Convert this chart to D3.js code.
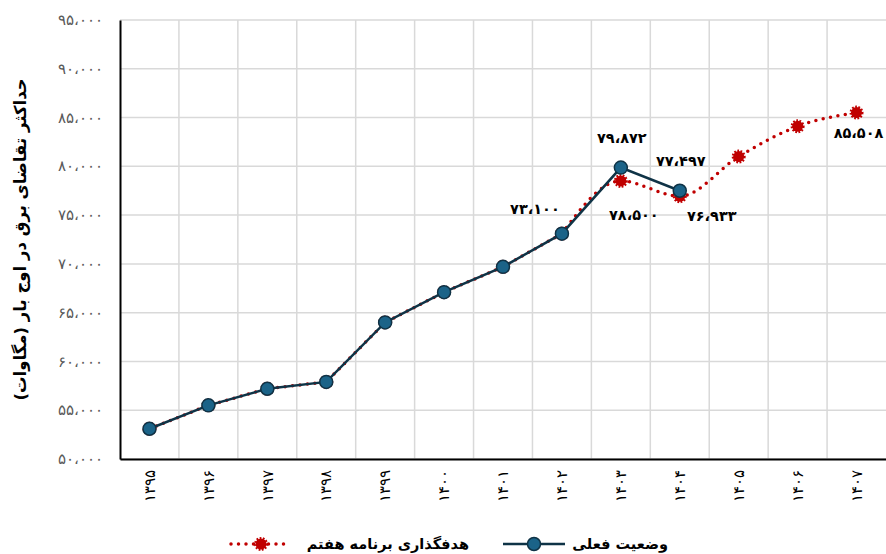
<!DOCTYPE html>
<html lang="fa">
<head>
<meta charset="UTF-8">
<title>Peak electricity demand</title>
<style>
  body { margin: 0; background: #fff; }
  svg { font-family: "DejaVu Sans", sans-serif; }
</style>
</head>
<body>
<div id="chart"></div>
<script src="https://d3js.org/d3.v7.min.js"></script>
<script>
// data
const years = ['۱۳۹۵', '۱۳۹۶', '۱۳۹۷', '۱۳۹۸', '۱۳۹۹', '۱۴۰۰', '۱۴۰۱', '۱۴۰۲', '۱۴۰۳', '۱۴۰۴', '۱۴۰۵', '۱۴۰۶', '۱۴۰۷'];
const actual = [53100, 55500, 57200, 57900, 64000, 67100, 69700, 73100, 79872, 77497, null, null, null];
const target = [53100, 55500, 57200, 57900, 64000, 67100, 69700, 73100, 78500, 76933, 81000, 84100, 85508];
const yTicks = [50000, 55000, 60000, 65000, 70000, 75000, 80000, 85000, 90000, 95000];
const seriesNames = ['وضعیت فعلی', 'هدفگذاری برنامه هفتم'];
const yTitle = 'حداکثر تقاضای برق در اوج بار (مگاوات)';
// which points carry a value label: [series, index, dx, dy]
const labelled = [
  ['actual', 7, -27, -25],
  ['actual', 8, 1, -30],
  ['actual', 9, 1, -30],
  ['target', 8, 13, 34],
  ['target', 9, 32, 20],
  ['target', 12, 2, 20]
];

const W = 886, H = 554;
const m = { left: 120, right: 0, top: 20, bottom: 95 };

const fa = d3.scaleOrdinal().domain('0123456789'.split('')).range('۰۱۲۳۴۵۶۷۸۹'.split(''));
function toFa(n) {
  return d3.format(',')(n).replace(/,/g, '،').replace(/[0-9]/g, c => fa(c));
}

const svg = d3.select('#chart').append('svg')
  .attr('width', W).attr('height', H);

const x = d3.scaleBand().domain(years).range([m.left, W - m.right]);
const y = d3.scaleLinear().domain([50000, 95000]).range([H - m.bottom, m.top]);
const cx = i => x(years[i]) + x.bandwidth() / 2;

// grid
svg.append('g').selectAll('line.h')
  .data(yTicks).enter().append('line')
  .attr('x1', m.left).attr('x2', W - m.right)
  .attr('y1', d => y(d)).attr('y2', d => y(d))
  .attr('stroke', '#d9d9d9').attr('stroke-width', 1.5);
svg.append('g').selectAll('line.v')
  .data(years.slice(1)).enter().append('line')
  .attr('x1', d => x(d)).attr('x2', d => x(d))
  .attr('y1', m.top).attr('y2', H - m.bottom)
  .attr('stroke', '#d9d9d9').attr('stroke-width', 1.5);

// axes
const yAxis = svg.append('g')
  .attr('transform', `translate(${m.left},0)`)
  .call(d3.axisLeft(y).tickValues(yTicks).tickSize(0).tickPadding(17).tickFormat(toFa));
yAxis.select('.domain').attr('stroke', '#000').attr('stroke-width', 2);
yAxis.selectAll('text').attr('fill', '#595959').style('font-size', '14.5px');

const xAxis = svg.append('g')
  .attr('transform', `translate(0,${H - m.bottom})`)
  .call(d3.axisBottom(x).tickSize(0).tickFormat(d => d));
xAxis.select('.domain').attr('stroke', '#000').attr('stroke-width', 2);
xAxis.selectAll('text')
  .attr('fill', '#000').style('font-size', '15px')
  .attr('transform', 'rotate(-90)')
  .attr('text-anchor', 'end')
  .attr('x', -11).attr('y', 0).attr('dy', '0.35em');

// axis title
svg.append('text')
  .attr('transform', `translate(20,${(m.top + H - m.bottom) / 2}) rotate(-90)`)
  .attr('text-anchor', 'middle').attr('dy', '0.35em')
  .style('font-size', '16.5px').style('font-weight', 'bold')
  .text(yTitle);

// target series: straight where it sits under the actual line, smoothed after
const red = '#c00000';
const split = 7;
const lineA = d3.line().defined((d, i) => i <= split).x((d, i) => cx(i)).y(d => y(d));
const lineB = d3.line().defined((d, i) => i >= split).x((d, i) => cx(i)).y(d => y(d)).curve(d3.curveMonotoneX);
[lineA, lineB].forEach(l => {
  svg.append('path').datum(target)
    .attr('d', l)
    .attr('fill', 'none').attr('stroke', red).attr('stroke-width', 3.5)
    .attr('stroke-linecap', 'round').attr('stroke-dasharray', '0 7.5');
});

function burst(sel, r) {
  sel.append('circle').attr('r', r).attr('fill', red)
    .attr('stroke', red).attr('stroke-width', 3).attr('stroke-dasharray', '1.6 1.4');
}
svg.append('g').selectAll('g')
  .data(target).enter().append('g')
  .attr('transform', (d, i) => `translate(${cx(i)},${y(d)})`)
  .call(burst, 5.5);

// actual series
const navy = '#0f3346';
const line2 = d3.line().defined(d => d != null).x((d, i) => cx(i)).y(d => y(d));
svg.append('path').datum(actual)
  .attr('d', line2)
  .attr('fill', 'none').attr('stroke', navy).attr('stroke-width', 2.5);
svg.append('g').selectAll('circle')
  .data(actual.map((d, i) => [d, i]).filter(p => p[0] != null)).enter().append('circle')
  .attr('cx', p => cx(p[1])).attr('cy', p => y(p[0])).attr('r', 6.5)
  .attr('fill', '#1b6388').attr('stroke', navy).attr('stroke-width', 1.5);

// value labels
const series = { actual, target };
svg.append('g').selectAll('text')
  .data(labelled).enter().append('text')
  .attr('x', d => cx(d[1]) + d[2])
  .attr('y', d => y(series[d[0]][d[1]]) + d[3])
  .attr('text-anchor', 'middle').attr('dy', '0.35em')
  .style('font-size', '14.5px').style('font-weight', 'bold')
  .text(d => toFa(series[d[0]][d[1]]));

// legend
const lg = svg.append('g').style('font-size', '14.5px').style('font-weight', 'bold');
lg.append('text').attr('x', 668).attr('y', 544).attr('dy', '0.35em')
  .attr('text-anchor', 'end').text(seriesNames[0]);
lg.append('line').attr('x1', 503).attr('x2', 565).attr('y1', 544).attr('y2', 544)
  .attr('stroke', navy).attr('stroke-width', 2.5);
lg.append('circle').attr('cx', 534).attr('cy', 544).attr('r', 6.5)
  .attr('fill', '#1b6388').attr('stroke', navy).attr('stroke-width', 1.5);

lg.append('text').attr('x', 469).attr('y', 544).attr('dy', '0.35em')
  .attr('text-anchor', 'end').text(seriesNames[1]);
lg.append('line').attr('x1', 231).attr('x2', 287).attr('y1', 544).attr('y2', 544)
  .attr('stroke', red).attr('stroke-width', 3.5)
  .attr('stroke-linecap', 'round').attr('stroke-dasharray', '0 7.5');
lg.append('g').attr('transform', 'translate(261,544)').call(burst, 5.5);
</script>
</body>
</html>
